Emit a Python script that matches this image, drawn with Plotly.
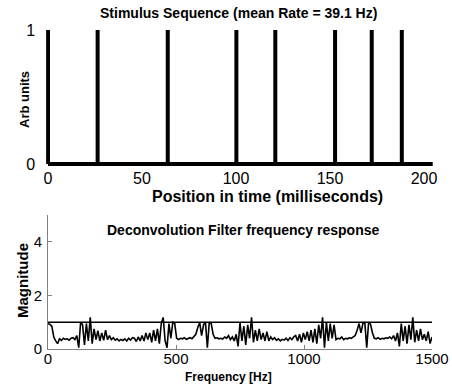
import plotly.graph_objects as go

# ---------------- data ----------------
spike_times_ms = [0, 26.4, 63.7, 100.2, 120.9, 152.7, 172.2, 188.2]
sequence_end_ms = 204.7
spike_height = 1

freq_step_hz = 7.5
magnitude = [
    0.95, 0.92, 0.85, 0.45, 0.30, 0.20, 0.38, 0.32, 0.40, 0.36,
    0.38, 0.33, 0.40, 0.42, 0.35, 0.50, 0.05, 1.00, 0.90, 0.15,
    0.95, 0.30, 1.18, 0.20, 0.75, 0.35, 0.68, 0.30, 0.60, 0.32,
    0.70, 0.35, 0.50, 0.35, 0.42, 0.33, 0.38, 0.30, 0.36, 0.32,
    0.38, 0.30, 0.40, 0.33, 0.42, 0.40, 0.28, 0.45, 0.30, 0.50,
    0.30, 0.60, 0.35, 0.60, 0.25, 0.70, 0.30, 0.75, 0.20, 0.95,
    1.18, 0.30, 0.05, 0.95, 0.40, 1.00, 0.95, 0.40, 0.35, 0.40,
    0.38, 0.42, 0.36, 0.40, 0.42, 0.38, 0.45, 0.55, 0.80, 0.98,
    0.50, 0.90, 1.00, 0.05, 1.00, 0.95, 0.55, 0.40, 0.42, 0.38,
    0.40, 0.37, 0.45, 0.40, 0.50, 0.35, 0.45, 0.30, 0.55, 0.10,
    0.98, 0.30, 0.85, 0.15, 0.90, 0.40, 1.18, 0.25, 0.70, 0.30,
    0.75, 0.35, 0.60, 0.30, 0.65, 0.30, 0.45, 0.35, 0.42, 0.32,
    0.38, 0.30, 0.36, 0.33, 0.40, 0.32, 0.42, 0.35, 0.45, 0.50,
    0.30, 0.55, 0.25, 0.60, 0.35, 0.65, 0.30, 0.70, 0.25, 0.75,
    0.20, 0.90, 0.40, 1.18, 0.05, 1.00, 0.30, 0.95, 0.40, 0.90,
    0.35, 0.40, 0.38, 0.45, 0.35, 0.40, 0.38, 0.42, 0.40, 0.45,
    0.50, 0.70, 0.95, 0.60, 0.95, 1.00, 0.05, 1.00, 0.92, 0.60,
    0.40, 0.38, 0.42, 0.36, 0.40, 0.38, 0.42, 0.40, 0.45, 0.38,
    0.50, 0.30, 0.60, 0.10, 0.95, 0.30, 0.85, 0.20, 0.90, 0.35,
    1.18, 0.25, 0.70, 0.30, 0.75, 0.35, 0.55, 0.30, 0.65, 0.20,
    0.45,
]
freq_hz = [i * freq_step_hz for i in range(len(magnitude))]
reference_level = 1

top_xticks = [0, 50, 100, 150, 200]
top_yticks = [0, 1]
bot_xticks = [0, 500, 1000, 1500]
bot_yticks = [0, 2, 4]

title_top = "Stimulus Sequence (mean Rate = 39.1 Hz)"
xlabel_top = "Position in time (milliseconds)"
ylabel_top = "Arb units"
title_bot = "Deconvolution Filter frequency response"
xlabel_bot = "Frequency [Hz]"
ylabel_bot = "Magnitude"

# ---------------- figure ----------------
W, H = 452, 391
FONT = "Liberation Sans, Arial, Helvetica, sans-serif"


def px(x):
    return x / W


def py(y):
    return 1 - y / H


fig = go.Figure()

# stimulus baseline
fig.add_trace(go.Scatter(
    x=[0, sequence_end_ms], y=[0, 0], mode="lines",
    line=dict(color="black", width=4), xaxis="x", yaxis="y",
    hoverinfo="skip", showlegend=False))
# stimulus spikes
sx, sy = [], []
for t in spike_times_ms:
    sx += [t, t, None]
    sy += [0, spike_height, None]
fig.add_trace(go.Scatter(
    x=sx, y=sy, mode="lines", line=dict(color="black", width=4),
    xaxis="x", yaxis="y", showlegend=False))

# filter magnitude response + unity reference line
fig.add_trace(go.Scatter(
    x=freq_hz, y=magnitude, mode="lines",
    line=dict(color="black", width=1.6), xaxis="x2", yaxis="y2",
    showlegend=False))
fig.add_trace(go.Scatter(
    x=[freq_hz[0], freq_hz[-1]], y=[reference_level, reference_level],
    mode="lines", line=dict(color="black", width=1.6),
    xaxis="x2", yaxis="y2", showlegend=False))

# top axes geometry: 0 ms at px 48, 200 ms at px 424; y 0 at 164, 1 at 30
xr_top = [-1.0, sequence_end_ms]
kx = (424 - 48) / 200
yr_top = [-0.035, 1.02]
ky = (164 - 30) / 1

tick_font_top = dict(family=FONT, size=16, color="black")
tick_font_bot = dict(family=FONT, size=15, color="black")

fig.update_layout(
    width=W, height=H,
    margin=dict(l=0, r=0, t=0, b=0, pad=0),
    paper_bgcolor="white", plot_bgcolor="white",
    showlegend=False,
    xaxis=dict(
        domain=[px(48 + xr_top[0] * kx), px(48 + xr_top[1] * kx)],
        range=xr_top, tickvals=top_xticks, ticks="", showline=False,
        showgrid=False, zeroline=False, tickfont=tick_font_top,
        anchor="y", ticklabelstandoff=-2, automargin=False,
    ),
    yaxis=dict(
        domain=[py(164 - yr_top[0] * ky), py(164 - yr_top[1] * ky)],
        range=yr_top, tickvals=top_yticks, ticks="", showline=False,
        showgrid=False, zeroline=False, tickfont=tick_font_top,
        anchor="x", ticklabelstandoff=10, automargin=False,
    ),
    xaxis2=dict(
        domain=[px(48), px(432)], range=[0, 1500], tickvals=bot_xticks,
        ticks="inside", ticklen=4, tickcolor="#808080",
        showline=True, linecolor="#808080", linewidth=1,
        showgrid=False, zeroline=False, tickfont=tick_font_bot,
        anchor="y2", ticklabelstandoff=-4, automargin=False,
    ),
    yaxis2=dict(
        domain=[py(349), py(215)], range=[0, 5], tickvals=bot_yticks,
        ticks="inside", ticklen=4, tickcolor="#808080",
        showline=True, linecolor="#808080", linewidth=1,
        showgrid=False, zeroline=False, tickfont=tick_font_bot,
        anchor="x2", ticklabelstandoff=2, automargin=False,
    ),
)


def label(text, x, y, size, angle=0):
    fig.add_annotation(
        text=text, x=px(x), y=py(y), xref="paper", yref="paper",
        xanchor="center", yanchor="middle", showarrow=False,
        textangle=angle,
        font=dict(family=FONT, size=size, color="black", weight="bold"))


label(title_top, 238, 13.5, 14)
label(xlabel_top, 267, 196, 16)
label(ylabel_top, 25, 100, 13, angle=-90)
label(title_bot, 243, 230, 14)
label(xlabel_bot, 228, 377, 12)
label(ylabel_bot, 22, 281, 15, angle=-90)

fig.write_html("out.html")
